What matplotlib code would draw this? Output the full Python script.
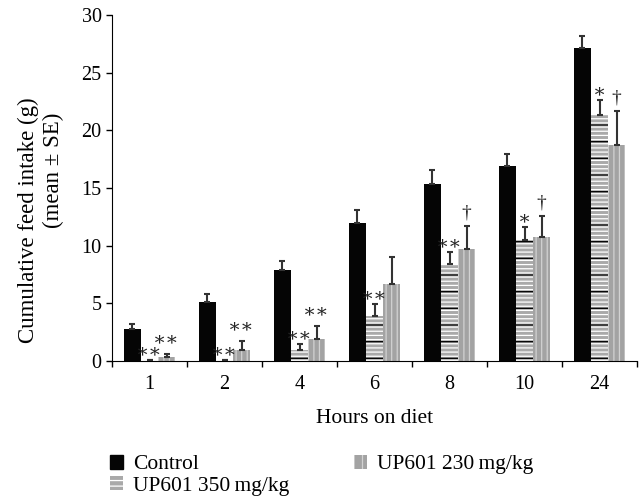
import numpy as np
import matplotlib
matplotlib.use('Agg')
import matplotlib.pyplot as plt

plt.rcParams['font.family'] = ['Liberation Serif', 'DejaVu Serif']
plt.rcParams['font.size'] = 14.5
plt.rcParams['hatch.linewidth'] = 0.9

hours = ['1', '2', '4', '6', '8', '10', '24']
control = [2.78, 5.12, 7.89, 12.0, 15.35, 16.91, 27.12]
control_se = [0.46, 0.72, 0.76, 1.07, 1.25, 1.07, 1.09]
up350 = [0.08, 0.08, 0.93, 3.93, 8.39, 10.49, 21.31]
up350_se = [0.0, 0.0, 0.52, 1.04, 1.04, 1.1, 1.3]
up230 = [0.35, 0.93, 1.94, 6.68, 9.74, 10.75, 18.73]
up230_se = [0.28, 0.83, 1.07, 2.34, 1.94, 1.8, 2.93]
sig350 = ['∗∗', '∗∗', '∗∗', '∗∗', '∗∗', '∗', '∗']
sig230 = ['∗∗', '∗∗', '∗∗', '', '†', '†', '†']

fig = plt.figure(figsize=(6.41, 5.04), dpi=100)
ax = fig.add_axes([112 / 641, 1 - 361 / 504, 525 / 641, 346 / 504])

x = np.arange(len(hours))
w = 0.227
ekw = dict(ecolor='#333333', elinewidth=1.5, capsize=2.5, capthick=1.5)

ax.bar(x - w, control, w, color='#050505', linewidth=0,
       yerr=[np.zeros(len(x)), control_se], error_kw=ekw, label='Control')
# 350 mg/kg: grey with white + black horizontal stripes
ax.bar(x, up350, w, color='#a9a9a9', edgecolor='white', hatch='----', linewidth=0)
ax.bar(x, up350, w, fill=False, edgecolor='black', hatch='-', linewidth=0,
       yerr=[np.zeros(len(x)), up350_se], error_kw=ekw)
# 230 mg/kg: grey with light vertical stripes
ax.bar(x + w, up230, w, color='#a3a3a3', edgecolor='#d2d2d2', hatch='|||', linewidth=0,
       yerr=[np.zeros(len(x)), up230_se], error_kw=ekw)

for i in range(len(x)):
    for dx, v, e, s in [(0, up350[i], up350_se[i], sig350[i]),
                        (w, up230[i], up230_se[i], sig230[i])]:
        if not s:
            continue
        off = 13 if s == '†' else (8 if dx == 0 else 14)
        ax.annotate(s, (x[i] + dx, v + e), xytext=(0, off),
                    textcoords='offset pixels', ha='center', va='center',
                    fontsize=14, color='#222222')

ax.set_xlim(-0.5, 6.5)
ax.set_ylim(0, 30)
ax.set_yticks([0, 5, 10, 15, 20, 25, 30])
ax.set_xticks(np.arange(-0.5, 7, 1))
ax.set_xticklabels([])
ax.set_xticks(x, minor=True)
ax.set_xticklabels(hours, minor=True)
ax.tick_params(axis='x', which='minor', length=0, pad=10)
ax.tick_params(axis='both', which='major', length=4, width=1, direction='out')
ax.spines['top'].set_visible(False)
ax.spines['right'].set_visible(False)
ax.set_xlabel('Hours on diet', fontsize=15.5, labelpad=11)

fig.text(28 / 641, 1 - 220 / 504, 'Cumulative feed intake (g)', rotation=90,
         ha='center', va='center', fontsize=16.5)
fig.text(53 / 641, 1 - 170 / 504, '(mean ± SE)', rotation=90,
         ha='center', va='center', fontsize=16.5)

h1 = plt.Rectangle((0, 0), 1, 1, color='#050505')
h2 = plt.Rectangle((0, 0), 1, 1, facecolor='#a9a9a9', edgecolor='white', hatch='---', linewidth=0)
h3 = plt.Rectangle((0, 0), 1, 1, facecolor='#a3a3a3', edgecolor='#d2d2d2', hatch='||', linewidth=0)
fig.legend([h1, h2, h3], ['Control', 'UP601 350\u2009mg/kg', 'UP601 230\u2009mg/kg'],
           ncol=2, loc='upper left', bbox_to_anchor=(110 / 641, 1 - 455 / 504),
           frameon=False, borderpad=0, borderaxespad=0, fontsize=15.5,
           handlelength=0.6, handleheight=0.6, handletextpad=0.47,
           labelspacing=0.09, columnspacing=3.0)

fig.savefig('out.png', dpi=100)
